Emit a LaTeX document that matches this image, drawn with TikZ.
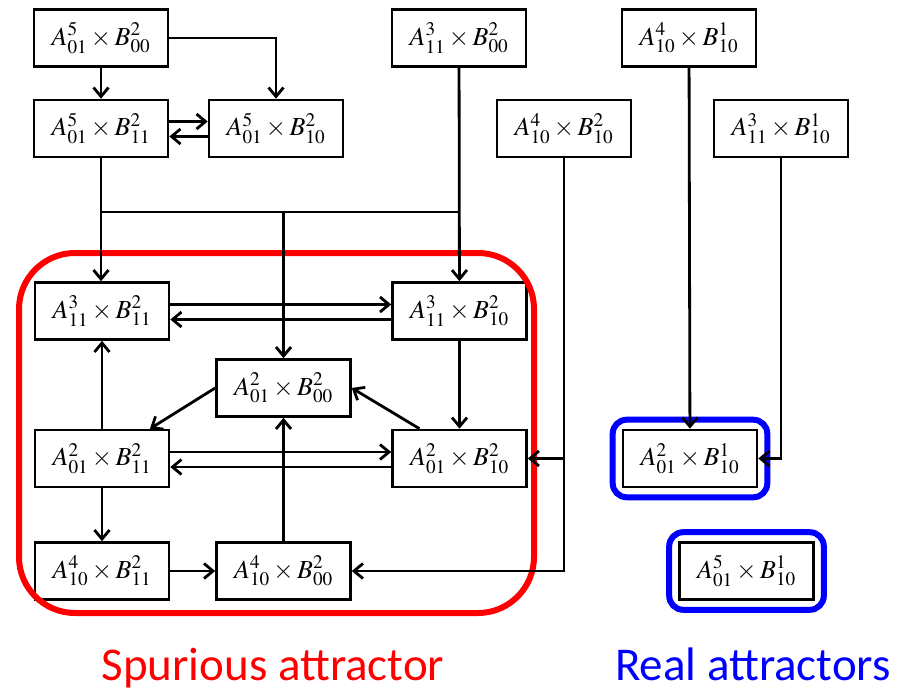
\documentclass[tikz,border=0pt]{standalone}
\usepackage{mathptmx}
\usepackage[no-math]{fontspec}
\newfontfamily\labelfont{Carlito}
\usepackage{xcolor}
\usepackage{tikz}
\usetikzlibrary{arrows.meta, positioning, fit, calc}

\begin{document}
\begin{tikzpicture}[
    x=1pt, y=-1pt,
    state/.style={draw, line width=2.6pt, rectangle, minimum width=134pt, minimum height=57pt, inner sep=0pt, font=\fontsize{26}{30}\selectfont},
    arr/.style={-{Straight Barb[length=9pt, width=15pt, line width=2.8pt]}, line width=2.8pt},
    wire/.style={line width=2.8pt},
    spur/.style={draw=red, line width=6pt, rounded corners=56pt},
    real/.style={draw=blue, line width=6pt, rounded corners=14pt, inner sep=9pt},
    caption/.style={anchor=base, font=\labelfont\fontsize{47}{51}\selectfont}
]
\useasboundingbox (0,0) rectangle (908,693);

\node[state] (A5B00) at (101, 38) {$A_{01}^{5}\times B_{00}^{2}$};
\node[state] (A3B00) at (459, 38) {$A_{11}^{3}\times B_{00}^{2}$};
\node[state] (A4R10) at (689, 38) {$A_{10}^{4}\times B_{10}^{1}$};
\node[state] (A5B11) at (101, 128.5) {$A_{01}^{5}\times B_{11}^{2}$};
\node[state] (A5B10) at (276, 128.5) {$A_{01}^{5}\times B_{10}^{2}$};
\node[state] (A4B10) at (564, 128.5) {$A_{10}^{4}\times B_{10}^{2}$};
\node[state] (A3R10) at (781, 128.5) {$A_{11}^{3}\times B_{10}^{1}$};

\node[state] (A3B11) at (102, 311) {$A_{11}^{3}\times B_{11}^{2}$};
\node[state] (A3B10) at (459.5, 311) {$A_{11}^{3}\times B_{10}^{2}$};
\node[state] (A2B00) at (283.5, 388) {$A_{01}^{2}\times B_{00}^{2}$};
\node[state] (A2B11) at (102, 458.5) {$A_{01}^{2}\times B_{11}^{2}$};
\node[state] (A2B10) at (459.5, 458.5) {$A_{01}^{2}\times B_{10}^{2}$};
\node[state] (A4B11) at (102, 571) {$A_{10}^{4}\times B_{11}^{2}$};
\node[state] (A4B00) at (283.5, 571) {$A_{10}^{4}\times B_{00}^{2}$};

\node[state] (A2R10) at (690, 458.5) {$A_{01}^{2}\times B_{10}^{1}$};
\node[state] (A5R10) at (746.5, 571) {$A_{01}^{5}\times B_{10}^{1}$};

\draw[spur] (19,253) rectangle (534,613);
\node[real, fit=(A2R10)] (realA) {};
\node[real, fit=(A5R10)] (realB) {};

\coordinate (bus) at (0,212);
\draw[arr] (A5B00) -- (A5B11);
\draw[arr] (A5B00.east) -| (A5B10.north);
\draw[arr] ([yshift=7pt]A5B11.east) -- ([yshift=7pt]A5B10.west);
\draw[arr] ([yshift=-8pt]A5B10.west) -- ([yshift=-8pt]A5B11.east);
\draw[arr] (A5B11.south) -- (A3B11.north -| A5B11);
\draw[arr] (A3B00) -- (A3B10);
\draw[wire] (A5B11 |- bus) -- (A3B00 |- bus);
\draw[arr] (A2B00 |- bus) -- (A2B00.north);

\draw[arr] ([yshift=6.5pt]A3B11.east) -- ([yshift=6.5pt]A3B10.west);
\draw[arr] ([yshift=-8.5pt]A3B10.west) -- ([yshift=-8.5pt]A3B11.east);
\draw[arr] (A3B10) -- (A2B10);
\draw[arr] ([xshift=-40pt]A2B10.north) -- (A2B00.east);
\draw[arr] (A2B00.west) -- ([xshift=48pt]A2B11.north);
\draw[arr] (A2B11) -- (A3B11);
\draw[arr] ([yshift=6.5pt]A2B11.east) -- ([yshift=6.5pt]A2B10.west);
\draw[arr] ([yshift=-8.5pt]A2B10.west) -- ([yshift=-8.5pt]A2B11.east);
\draw[arr] (A2B11) -- (A4B11);
\draw[arr] (A4B11) -- (A4B00);
\draw[arr] (A4B00) -- (A2B00);

\draw[arr] (A4B10.south) |- (A4B00.east);
\draw[arr] (A4B10.south |- A2B10.east) -- (A2B10.east);
\draw[arr] (A4R10) -- (A2R10);
\draw[arr] (A3R10.south) |- (A2R10.east);

\node[caption, text=red] (spurlabel) at (273, 680) {Spurious attractor};
\node[caption, text=blue] (reallabel) at (753, 680) {Real attractors};
\end{tikzpicture}
\end{document}
